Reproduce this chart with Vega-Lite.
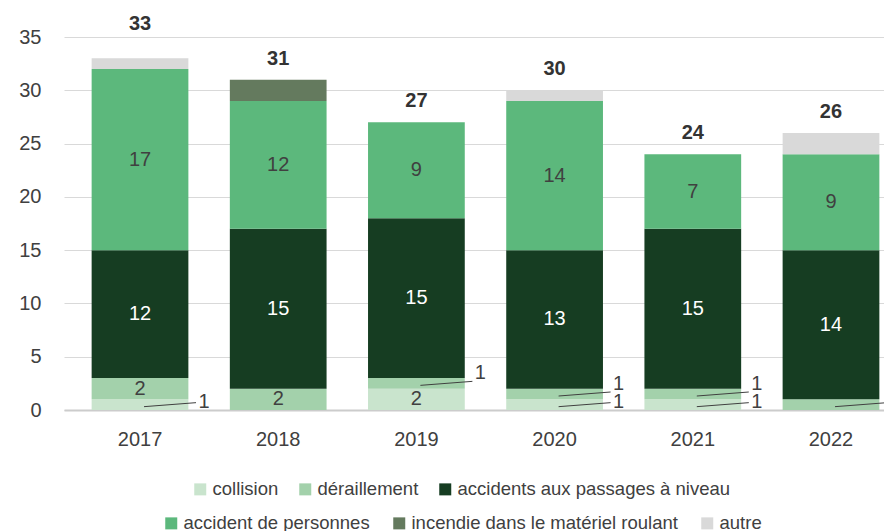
{
  "$schema": "https://vega.github.io/schema/vega-lite/v6.json",
  "autosize": "none",
  "width": 820,
  "height": 373,
  "padding": {"left": 64, "top": 37, "right": 0, "bottom": 121},
  "background": "white",
  "config": {
    "font": "Liberation Sans",
    "view": {"stroke": null},
    "legend": {
      "title": null,
      "labelFont": "Liberation Sans",
      "labelFontSize": 18.5,
      "labelColor": "#404040",
      "labelLimit": 400,
      "symbolType": "square",
      "symbolSize": 144,
      "symbolStrokeWidth": 0,
      "labelOffset": 3,
      "orient": "none",
      "direction": "horizontal",
      "columns": 3
    }
  },
  "data": {
    "values": [
      {"year": "2017", "category": "collision", "value": 1},
      {"year": "2017", "category": "déraillement", "value": 2},
      {"year": "2017", "category": "accidents aux passages à niveau", "value": 12},
      {"year": "2017", "category": "accident de personnes", "value": 17},
      {"year": "2017", "category": "autre", "value": 1},
      {"year": "2018", "category": "déraillement", "value": 2},
      {"year": "2018", "category": "accidents aux passages à niveau", "value": 15},
      {"year": "2018", "category": "accident de personnes", "value": 12},
      {"year": "2018", "category": "incendie dans le matériel roulant", "value": 2},
      {"year": "2019", "category": "collision", "value": 2},
      {"year": "2019", "category": "déraillement", "value": 1},
      {"year": "2019", "category": "accidents aux passages à niveau", "value": 15},
      {"year": "2019", "category": "accident de personnes", "value": 9},
      {"year": "2020", "category": "collision", "value": 1},
      {"year": "2020", "category": "déraillement", "value": 1},
      {"year": "2020", "category": "accidents aux passages à niveau", "value": 13},
      {"year": "2020", "category": "accident de personnes", "value": 14},
      {"year": "2020", "category": "autre", "value": 1},
      {"year": "2021", "category": "collision", "value": 1},
      {"year": "2021", "category": "déraillement", "value": 1},
      {"year": "2021", "category": "accidents aux passages à niveau", "value": 15},
      {"year": "2021", "category": "accident de personnes", "value": 7},
      {"year": "2022", "category": "déraillement", "value": 1},
      {"year": "2022", "category": "accidents aux passages à niveau", "value": 14},
      {"year": "2022", "category": "accident de personnes", "value": 9},
      {"year": "2022", "category": "autre", "value": 2}
    ]
  },
  "transform": [
    {"calculate": "indexof(['collision','déraillement','accidents aux passages à niveau','accident de personnes','incendie dans le matériel roulant','autre'], datum.category)", "as": "order"},
    {"stack": "value", "groupby": ["year"], "sort": [{"field": "order", "order": "ascending"}], "as": ["y0", "y1"]},
    {"calculate": "(datum.y0 + datum.y1) / 2", "as": "mid"}
  ],
  "encoding": {
    "x": {
      "field": "year",
      "type": "nominal",
      "scale": {"paddingInner": 0.3, "paddingOuter": 0.2, "range": [0, 843]},
      "axis": {
        "title": null,
        "labelAngle": 0,
        "labelFontSize": 20,
        "labelColor": "#404040",
        "labelPadding": 19,
        "ticks": false,
        "domainColor": "#cccccc",
        "domainWidth": 2
      }
    }
  },
  "layer": [
    {
      "transform": [{"filter": "datum.order <= 2"}],
      "mark": {"type": "bar"},
      "encoding": {
        "y": {
          "field": "y0",
          "type": "quantitative",
          "scale": {"domain": [0, 35], "nice": false},
          "axis": {
            "title": null,
            "values": [0, 5, 10, 15, 20, 25, 30, 35],
            "labelFontSize": 20,
            "labelColor": "#404040",
            "labelPadding": 23,
            "ticks": false,
            "domain": false,
            "gridColor": "#d9d9d9",
            "gridWidth": 1
          }
        },
        "y2": {"field": "y1"},
        "color": {
          "field": "category",
          "type": "nominal",
          "scale": {
            "domain": ["collision", "déraillement", "accidents aux passages à niveau"],
            "range": ["#c9e4cd", "#a3d1ab", "#163d22"]
          },
          "legend": {"legendX": 127, "legendY": 443, "columnPadding": 17}
        }
      }
    },
    {
      "transform": [{"filter": "datum.order >= 3"}],
      "mark": {"type": "bar"},
      "encoding": {
        "y": {"field": "y0", "type": "quantitative"},
        "y2": {"field": "y1"},
        "fill": {
          "field": "category",
          "type": "nominal",
          "scale": {
            "domain": ["accident de personnes", "incendie dans le matériel roulant", "autre"],
            "range": ["#5cb87c", "#647a5e", "#d9d9d9"]
          },
          "legend": {"legendX": 98, "legendY": 477, "columnPadding": 20}
        }
      }
    },
    {
      "transform": [{"filter": "datum.category === 'accidents aux passages à niveau'"}],
      "mark": {"type": "text", "fontSize": 20, "color": "white"},
      "encoding": {
        "y": {"field": "mid", "type": "quantitative"},
        "text": {"field": "value", "type": "quantitative"}
      }
    },
    {
      "transform": [{"filter": "datum.category === 'accident de personnes' || (datum.order <= 1 && datum.value >= 2)"}],
      "mark": {"type": "text", "fontSize": 20, "color": "#404040"},
      "encoding": {
        "y": {"field": "mid", "type": "quantitative"},
        "text": {"field": "value", "type": "quantitative"}
      }
    },
    {
      "transform": [{"filter": "datum.order <= 1 && datum.value == 1"}],
      "mark": {"type": "rule", "color": "#404040", "strokeWidth": 1, "xOffset": 4, "x2Offset": 56, "yOffset": 2, "y2Offset": -2},
      "encoding": {
        "x2": {"field": "year"},
        "y": {"field": "mid", "type": "quantitative"},
        "y2": {"field": "mid"}
      }
    },
    {
      "transform": [{"filter": "datum.order == 0 && datum.value == 1"}],
      "mark": {"type": "text", "fontSize": 20, "color": "#404040", "dx": 64, "dy": -3},
      "encoding": {
        "y": {"field": "mid", "type": "quantitative"},
        "text": {"field": "value", "type": "quantitative"}
      }
    },
    {
      "transform": [{"filter": "datum.order == 1 && datum.value == 1"}],
      "mark": {"type": "text", "fontSize": 20, "color": "#404040", "dx": 64, "dy": -10},
      "encoding": {
        "y": {"field": "mid", "type": "quantitative"},
        "text": {"field": "value", "type": "quantitative"}
      }
    },
    {
      "transform": [
        {"aggregate": [{"op": "sum", "field": "value", "as": "total"}], "groupby": ["year"]},
        {"filter": "datum.year !== '2017'"}
      ],
      "mark": {"type": "text", "fontSize": 20, "fontWeight": "bold", "color": "#333333", "baseline": "alphabetic", "dy": -15},
      "encoding": {
        "y": {"field": "total", "type": "quantitative"},
        "text": {"field": "total", "type": "quantitative"}
      }
    },
    {
      "transform": [
        {"aggregate": [{"op": "sum", "field": "value", "as": "total"}], "groupby": ["year"]},
        {"filter": "datum.year === '2017'"}
      ],
      "mark": {"type": "text", "fontSize": 20, "fontWeight": "bold", "color": "#333333", "baseline": "alphabetic", "dy": -28},
      "encoding": {
        "y": {"field": "total", "type": "quantitative"},
        "text": {"field": "total", "type": "quantitative"}
      }
    }
  ]
}
